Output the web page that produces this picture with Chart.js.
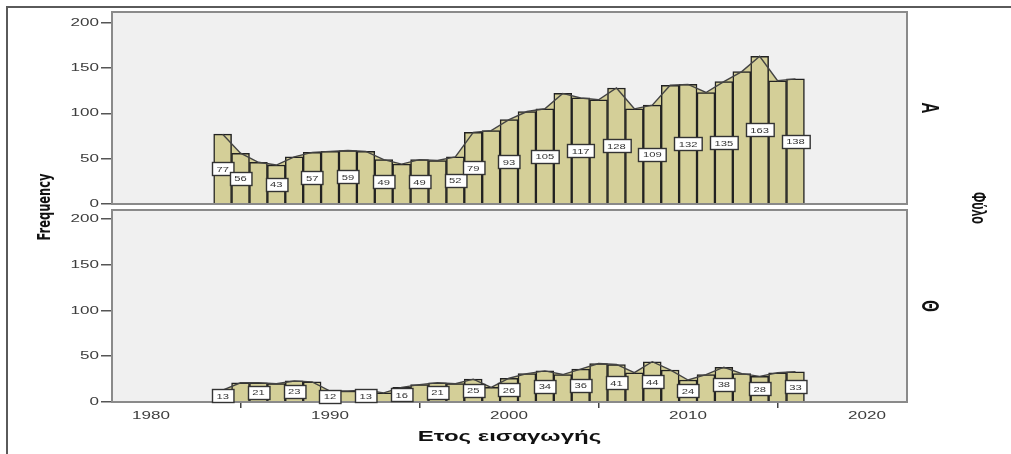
<!DOCTYPE html>
<html>
<head>
<meta charset="utf-8">
<script src="https://cdn.jsdelivr.net/npm/chart.js@4"></script>
<style>
  html, body { margin: 0; padding: 0; background: #ffffff; }
  #wrap { position: relative; width: 1011px; height: 454px; overflow: hidden; }
  #wrap canvas { position: absolute; left: 0; top: 0; }
</style>
</head>
<body>
<div id="wrap">
  <canvas id="panelA" width="1011" height="454"></canvas>
  <canvas id="panelO" width="1011" height="454"></canvas>
</div>
<script>
// Year of admission, one bar per year
const years = [1984, 1985, 1986, 1987, 1988, 1989, 1990, 1991, 1992, 1993, 1994,
               1995, 1996, 1997, 1998, 1999, 2000, 2001, 2002, 2003, 2004, 2005,
               2006, 2007, 2008, 2009, 2010, 2011, 2012, 2013, 2014, 2015, 2016];

// Frequencies, sex = A
const countsA = [77, 56, 46, 43, 52, 57, 58, 59, 58, 49, 44,
                 49, 48, 52, 79, 81, 93, 102, 105, 122, 117, 115,
                 128, 105, 109, 131, 132, 123, 135, 146, 163, 136, 138];

// Frequencies, sex = Θ
const countsO = [13, 21, 21, 20, 23, 22, 12, 12, 13, 10, 16,
                 19, 21, 20, 25, 16, 26, 31, 34, 30, 36, 42,
                 41, 32, 44, 35, 24, 30, 38, 31, 28, 32, 33];

// Bars that carry a value box
const labeledYearsA = [1984, 1985, 1987, 1989, 1991, 1993, 1995, 1997, 1998,
                       2000, 2002, 2004, 2006, 2008, 2010, 2012, 2014, 2016];
const labeledYearsO = [1984, 1986, 1988, 1990, 1992, 1994, 1996, 1998, 2000,
                       2002, 2004, 2006, 2008, 2010, 2012, 2014, 2016];

const panelNames = ['A', 'Θ'];
const xTickValues = [1980, 1990, 2000, 2010, 2020];
const yTickValues = [0, 50, 100, 150, 200];

const KHAKI = '#d4cf98';
const SANS = "'Liberation Sans', Arial, sans-serif";

// Text in this figure is drawn wide; widen glyphs in screen x around their anchor.
function widenText(ctx, factor) {
  const baseFill = ctx.fillText;
  ctx.textScaleX = factor;
  ctx.fillText = function (text, x, y, maxWidth) {
    const sx = ctx.textScaleX;
    const m = ctx.getTransform();
    const p = m.transformPoint(new DOMPoint(x, y));
    ctx.save();
    ctx.setTransform(new DOMMatrix().translate(p.x, p.y).scale(sx, 1).translate(-p.x, -p.y).multiply(m));
    if (maxWidth === undefined) baseFill.call(ctx, text, x, y);
    else baseFill.call(ctx, text, x, y, maxWidth);
    ctx.restore();
  };
}

function drawValueBox(ctx, text, cx, cy) {
  ctx.save();
  ctx.font = '8px ' + SANS;
  const sx = 1.4;
  ctx.textScaleX = sx;
  const w = ctx.measureText(text).width * sx + 9;
  const h = 13;
  const x0 = Math.round(cx - w / 2) + 0.5;
  const y0 = Math.round(cy - h / 2) + 0.5;
  ctx.fillStyle = '#ffffff';
  ctx.fillRect(x0, y0, w, h);
  ctx.strokeStyle = '#333333';
  ctx.lineWidth = 1.4;
  ctx.strokeRect(x0, y0, w, h);
  ctx.fillStyle = '#333333';
  ctx.textAlign = 'center';
  ctx.textBaseline = 'middle';
  ctx.fillText(text, cx, cy + 1);
  ctx.restore();
  ctx.textScaleX = 1.55;
}

const panelPlugin = {
  id: 'panelFrame',
  beforeDraw(chart) {
    const { ctx, chartArea: a } = chart;
    ctx.save();
    ctx.fillStyle = '#f0f0f0';
    ctx.fillRect(a.left, a.top, a.width, a.height);
    ctx.restore();
  },
  afterDatasetsDraw(chart, args, opts) {
    const { ctx, chartArea: a } = chart;
    ctx.save();
    ctx.strokeStyle = '#8a8a8a';
    ctx.lineWidth = 2;
    ctx.strokeRect(a.left, a.top, a.width, a.height);
    ctx.restore();

    const meta = chart.getDatasetMeta(1);
    const values = chart.data.datasets[1].data;
    values.forEach((pt, i) => {
      if (!opts.labeled.includes(pt.x)) return;
      const el = meta.data[i];
      drawValueBox(ctx, String(pt.y), el.x, (el.y + el.base) / 2);
    });
  }
};

// Outer frame and the titles shared by both panels
const sharedTextPlugin = {
  id: 'sharedText',
  afterDraw(chart) {
    const ctx = chart.ctx;
    ctx.save();
    ctx.strokeStyle = '#5a5a5a';
    ctx.lineWidth = 2;
    ctx.beginPath();
    ctx.moveTo(7, 454);
    ctx.lineTo(7, 7);
    ctx.lineTo(1011, 7);
    ctx.stroke();
    ctx.restore();

    // y title, reading upwards
    ctx.save();
    ctx.fillStyle = '#111111';
    ctx.font = "bold 16px 'Liberation Sans Narrow', 'DejaVu Sans Condensed', Arial, sans-serif";
    ctx.textAlign = 'center';
    ctx.textBaseline = 'middle';
    ctx.translate(46, 207);
    ctx.rotate(-Math.PI / 2);
    let w = ctx.measureText('Frequency').width;
    ctx.scale(67 / w, 1);
    ctx.textScaleX = 1.05;
    ctx.fillText('Frequency', 0, 0);
    ctx.restore();

    // facet title, reading downwards
    ctx.save();
    ctx.fillStyle = '#111111';
    ctx.font = 'bold 13px ' + SANS;
    ctx.textAlign = 'center';
    ctx.textBaseline = 'middle';
    ctx.translate(977, 208);
    ctx.rotate(Math.PI / 2);
    w = ctx.measureText('Φύλο').width;
    ctx.scale(32 / w, 1);
    ctx.textScaleX = 1.5;
    ctx.fillText('Φύλο', 0, 0);
    ctx.restore();
    ctx.textScaleX = 1.55;
  }
};

function makePanel(canvasId, counts, labeled, name, areaTop, areaBottom, yMax, isBottom) {
  const canvas = document.getElementById(canvasId);
  const ctx = canvas.getContext('2d');
  widenText(ctx, 1.55);
  const points = years.map((yr, i) => ({ x: yr, y: counts[i] }));
  const axisH = isBottom ? 52 : 0;

  return new Chart(ctx, {
    type: 'bar',
    data: {
      datasets: [
        {
          type: 'line',
          data: points,
          borderColor: '#444444',
          borderWidth: 1.4,
          backgroundColor: KHAKI,
          fill: 'origin',
          pointRadius: 0,
          tension: 0,
          order: 0
        },
        {
          type: 'bar',
          data: points,
          backgroundColor: KHAKI,
          borderColor: '#222222',
          borderWidth: 1.5,
          barPercentage: 1,
          categoryPercentage: 1,
          order: 1
        }
      ]
    },
    options: {
      responsive: false,
      animation: false,
      events: [],
      layout: { padding: { top: areaTop, bottom: 454 - areaBottom - axisH, left: 0, right: 0 } },
      plugins: {
        legend: { display: false },
        tooltip: { enabled: false },
        filler: { drawTime: 'beforeDatasetsDraw' },
        panelFrame: { labeled: labeled }
      },
      scales: {
        x: {
          type: 'linear',
          min: 1977.82,
          max: 2022.23,
          offset: false,
          display: isBottom,
          grid: { drawOnChartArea: false, drawTicks: true, tickLength: 6, color: '#444444', lineWidth: 1.5 },
          border: { display: false },
          ticks: { includeBounds: false, stepSize: 10, autoSkip: false, maxRotation: 0, padding: 1,
                   color: '#3c3c3c', font: { family: SANS, size: 11 },
                   callback: v => String(v) },
          afterBuildTicks: s => { s.ticks = xTickValues.map(v => ({ value: v })); },
          afterFit: s => { s.height = axisH; },
          title: { display: isBottom, text: 'Ετος εισαγωγής', color: '#111111',
                   font: { family: SANS, size: 15.5, weight: 'bold' }, padding: { top: 0, bottom: 8 } }
        },
        y: {
          type: 'linear',
          min: 0,
          max: yMax,
          grid: { drawOnChartArea: false, drawTicks: true, tickLength: 11, color: '#555555', lineWidth: 1.5 },
          border: { display: false },
          ticks: { includeBounds: false, stepSize: 50, padding: 2, color: '#3c3c3c',
                   font: { family: SANS, size: 11 }, callback: v => String(v) },
          afterBuildTicks: s => { s.ticks = yTickValues.map(v => ({ value: v })); },
          afterFit: s => { s.width = 112; }
        },
        side: {
          type: 'linear',
          position: 'right',
          grid: { display: false },
          border: { display: false },
          ticks: { display: false },
          afterFit: s => { s.width = 104; },
          title: { display: true, text: name, color: '#111111',
                   font: { family: SANS, size: 15, weight: 'bold' }, padding: { top: 74, bottom: 0 } }
        }
      }
    },
    plugins: isBottom ? [panelPlugin, sharedTextPlugin] : [panelPlugin]
  });
}

makePanel('panelA', countsA, labeledYearsA, panelNames[0], 12, 204, 211.8, false);
makePanel('panelO', countsO, labeledYearsO, panelNames[1], 210, 402, 209.8, true);
</script>
</body>
</html>
